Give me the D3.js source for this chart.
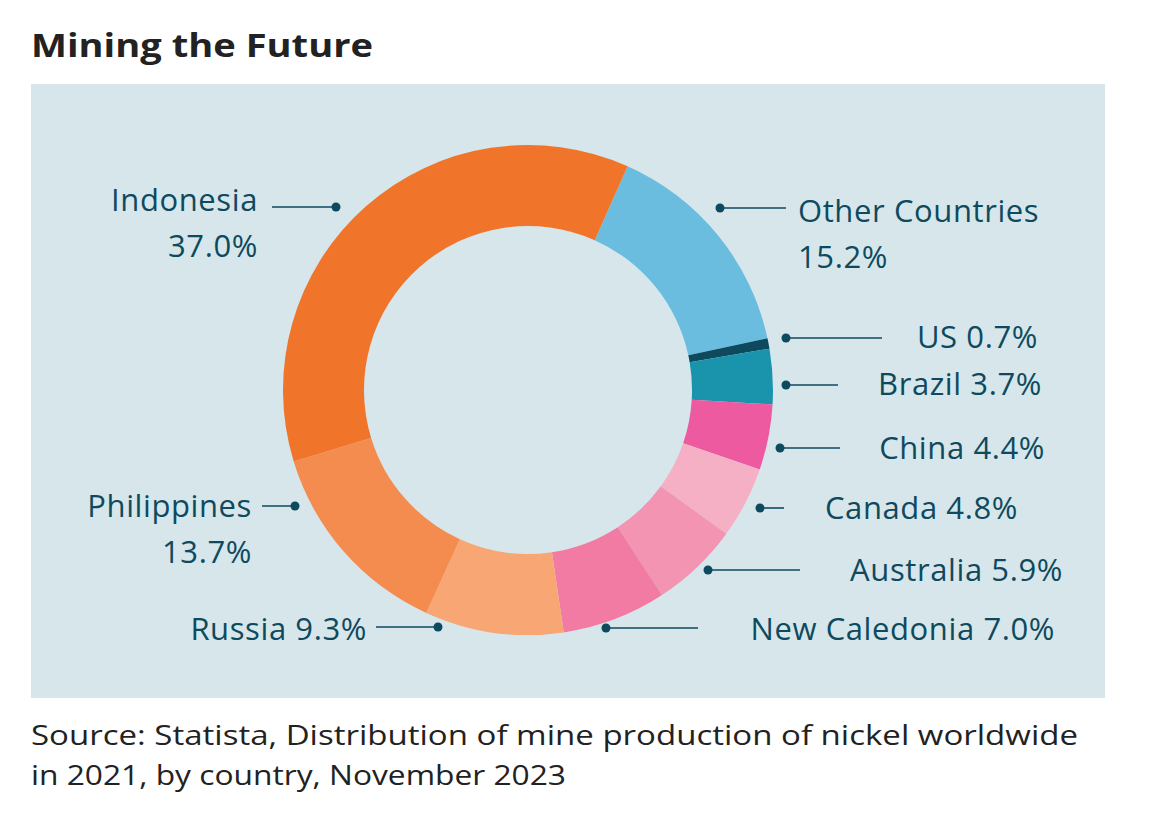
<!DOCTYPE html>
<html><head><meta charset="utf-8">
<script src="https://cdn.jsdelivr.net/npm/d3@7"></script>
<style>body{margin:0;background:#fff;font-family:"Open Sans",Roboto,sans-serif;}</style>
</head><body>
<svg id="chart" width="1161" height="824"></svg>
<script>
// data, clockwise from the top-right slice
var countries = ["Other Countries","US","Brazil","China","Canada","Australia","New Caledonia","Russia","Philippines","Indonesia"];
var shares = [15.2,0.7,3.7,4.4,4.8,5.9,7.0,9.3,13.7,37.0];
var colors = ["#6bbde0","#0d4a5e","#1a93ad","#ee5aa0","#f6b0c5","#f394b3","#f27ba3","#f8a673","#f58c4f","#f0752b"];

// label layout: text lines, text x/y, anchor, leader line, dot side
var labelLayout = {
  "Indonesia":      {lines:["Indonesia","37.0%"], x:258, y:211, anchor:"end", lx0:272, lx1:336, ly:207, dot:"right"},
  "Other Countries":{lines:["Other Countries","15.2%"], x:798, y:222, anchor:"start", lx0:720, lx1:786, ly:208, dot:"left"},
  "US":             {lines:["US 0.7%"], x:1038, y:348, anchor:"end", lx0:786, lx1:882, ly:338, dot:"left"},
  "Brazil":         {lines:["Brazil 3.7%"], x:1042, y:395, anchor:"end", lx0:786, lx1:838, ly:385, dot:"left"},
  "China":          {lines:["China 4.4%"], x:1045, y:459, anchor:"end", lx0:780, lx1:840, ly:448, dot:"left"},
  "Canada":         {lines:["Canada 4.8%"], x:1018, y:519, anchor:"end", lx0:760, lx1:784, ly:508, dot:"left"},
  "Australia":      {lines:["Australia 5.9%"], x:1063, y:581, anchor:"end", lx0:708, lx1:800, ly:570, dot:"left"},
  "New Caledonia":  {lines:["New Caledonia 7.0%"], x:1055, y:640, anchor:"end", lx0:606, lx1:698, ly:628, dot:"left"},
  "Russia":         {lines:["Russia 9.3%"], x:367, y:640, anchor:"end", lx0:376, lx1:438, ly:627, dot:"right"},
  "Philippines":    {lines:["Philippines","13.7%"], x:252, y:517, anchor:"end", lx0:262, lx1:295, ly:506, dot:"right"}
};

var svg = d3.select("#chart");
var ink = "#0e4a5e";

svg.append("text").attr("x",31).attr("y",57).attr("fill","#222")
  .attr("font-size",33).attr("font-weight",700)
  .attr("textLength",342).attr("lengthAdjust","spacingAndGlyphs").text("Mining the Future");

svg.append("rect").attr("x",31).attr("y",84).attr("width",1074).attr("height",614).attr("fill","#d7e6eb");

var cx = 528, cy = 390;
var startA = 24 * Math.PI/180;
var pie = d3.pie().sort(null).startAngle(startA).endAngle(startA + 2*Math.PI);
var arc = d3.arc().innerRadius(164).outerRadius(245);
var rows = countries.map(function(c,i){ return {name:c, value:shares[i], color:colors[i]}; });

var g = svg.append("g").attr("transform","translate(" + cx + "," + cy + ")");
g.selectAll("path").data(pie.value(function(d){ return d.value; })(rows)).enter()
  .append("path").attr("d", arc).attr("fill", function(d){ return d.data.color; });

var lab = svg.append("g");
countries.forEach(function(c){
  var L = labelLayout[c];
  lab.append("line").attr("x1",L.lx0).attr("x2",L.lx1).attr("y1",L.ly).attr("y2",L.ly)
    .attr("stroke",ink).attr("stroke-width",1.6);
  lab.append("circle").attr("cx", L.dot === "right" ? L.lx1 : L.lx0).attr("cy",L.ly).attr("r",4.5).attr("fill",ink);
  L.lines.forEach(function(t,i){
    lab.append("text").attr("x",L.x).attr("y",L.y + i*46).attr("text-anchor",L.anchor)
      .attr("fill",ink).attr("font-size",31).attr("letter-spacing",0.6).text(t);
  });
});

svg.append("text").attr("x",31).attr("y",745).attr("fill","#222").attr("font-size",27)
  .attr("textLength",1047).attr("lengthAdjust","spacingAndGlyphs")
  .text("Source: Statista, Distribution of mine production of nickel worldwide");
svg.append("text").attr("x",31).attr("y",785).attr("fill","#222").attr("font-size",27)
  .attr("textLength",535).attr("lengthAdjust","spacingAndGlyphs")
  .text("in 2021, by country, November 2023");
</script>
</body></html>
